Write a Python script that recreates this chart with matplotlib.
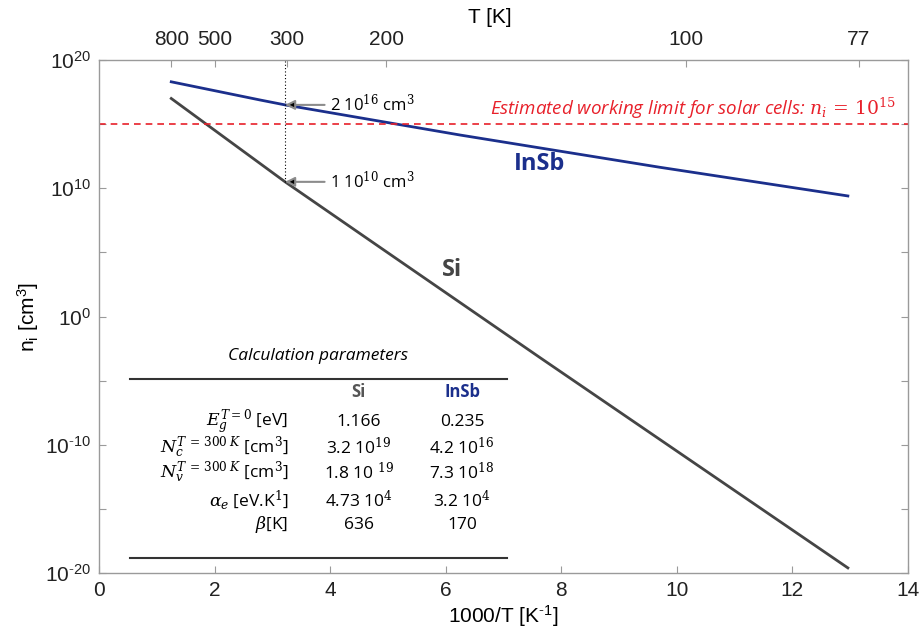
import matplotlib.pyplot as plt
import numpy as np

# Данные (1000/T и log10(n_i))
si_x = [1.25, 1.75, 3.22, 4.86, 7.63, 12.96]
si_log = [17.0, 15.35, 10.5, 5.4, -3.2, -19.6]

insb_x = [1.25, 2.79, 3.22, 6.25, 9.7, 12.96]
insb_log = [18.3, 16.88, 16.5, 14.15, 11.64, 9.4]

limit_ni = 1e15
x_300 = 3.22
insb_300_log = 16.5
si_300_log = 10.5

top_tick_pos = [1.25, 2.0, 3.25, 4.97, 10.15, 13.15]
top_tick_labels = ['800', '500', '300', '200', '100', '77']

# Таблица параметров
row_labels = [r'$E_g^{T=0}$ [eV]',
              r'$N_c^{T\,=\,300\;K}$ [cm$^3$]',
              r'$N_v^{T\,=\,300\;K}$ [cm$^3$]',
              r'$\alpha_e$ [eV.K$^1$]',
              r'$\beta$[K]']
si_params = ['1.166', r'3.2 10$^{19}$', r'1.8 10 $^{19}$', r'4.73 10$^4$', '636']
insb_params = ['0.235', r'4.2 10$^{16}$', r'7.3 10$^{18}$', r'3.2 10$^4$', '170']

navy = '#1b2f8c'
dgray = '#454545'
axcol = '#9a9a9a'

plt.rcParams['font.family'] = ['Liberation Sans', 'DejaVu Sans']
plt.rcParams['mathtext.fontset'] = 'dejavuserif'

fig = plt.figure(figsize=(9.23, 6.35), dpi=100)
ax = fig.add_axes([0.1073, 0.0976, 0.8764, 0.8079])

ax.plot(insb_x, 10.0 ** np.array(insb_log), color=navy, lw=2.0)
ax.plot(si_x, 10.0 ** np.array(si_log), color=dgray, lw=2.0)
ax.axhline(limit_ni, color='#e8202a', lw=1.2, ls=(0, (4, 3)))

ax.set_yscale('log')
ax.set_xlim(0, 14)
ax.set_ylim(1e-20, 1e20)

yt = [10.0 ** k for k in range(-20, 21, 5)]
ax.set_yticks(yt)
ax.set_yticklabels([(r'10$^{\mathregular{%d}}$' % k).replace('-', r'\text{-}') if k % 10 == 0 else ''
                    for k in range(-20, 21, 5)])
ax.minorticks_off()
ax.set_xticks(range(0, 15, 2))

for s in ax.spines.values():
    s.set_color(axcol)
    s.set_linewidth(1.0)
ax.tick_params(direction='in', length=5, color=axcol, labelsize=15,
               top=True, right=True, labelcolor='#222222', pad=6)

ax.set_xlabel(r'1000/T [K$^{\mathregular{-1}}$]'.replace('-', r'\text{-}'), fontsize=15, labelpad=2)
ax.set_ylabel(r'n$_\mathregular{i}$ [cm$^\mathregular{3}$]', fontsize=15)
ax.yaxis.set_label_coords(-0.072, 0.5)

# Верхняя ось с температурой
ax2 = ax.twiny()
ax2.set_xlim(0, 14)
ax2.set_xticks(top_tick_pos)
ax2.set_xticklabels(top_tick_labels)
ax2.tick_params(direction='in', length=5, color=axcol, labelsize=15,
                labelcolor='#222222', pad=8)
for s in ax2.spines.values():
    s.set_visible(False)
ax2.set_xlabel('T [K]', fontsize=15)
ax2.xaxis.set_label_coords(0.483, 1.072)

# Пунктир на 300 K и стрелки
ax.vlines(x_300, 10 ** si_300_log, 1e20, colors='black', linestyles=(0, (1, 2)), lw=0.8)
arrow = dict(arrowstyle='-|>', edgecolor='#8c8c8c', facecolor='black', lw=1.5,
             mutation_scale=14, shrinkA=2, shrinkB=0)
ax.annotate(r'2 10$^{16}$ cm$^3$', xy=(x_300, 10 ** insb_300_log),
            xytext=(4.0, 10 ** insb_300_log), va='center', ha='left',
            fontsize=12, family='Open Sans', arrowprops=arrow)
ax.annotate(r'1 10$^{10}$ cm$^3$', xy=(x_300, 10 ** si_300_log),
            xytext=(4.0, 10 ** si_300_log), va='center', ha='left',
            fontsize=12, family='Open Sans', arrowprops=arrow)

ax.text(0.985, 0.905, r'Estimated working limit for solar cells: $n_i\,=\,10^{15}$',
        transform=ax.transAxes, ha='right', va='center', color='#e8202a',
        fontsize=13.5, style='italic', family='Open Sans')

ax.text(0.545, 0.798, 'InSb', transform=ax.transAxes, ha='center', va='center',
        color=navy, fontsize=17, fontweight='bold', family='Open Sans')
ax.text(0.436, 0.59, 'Si', transform=ax.transAxes, ha='center', va='center',
        color=dgray, fontsize=17, fontweight='bold', family='Open Sans')

# Таблица
ax.text(0.271, 0.423, 'Calculation parameters', transform=ax.transAxes,
        ha='center', va='center', fontsize=12.5, style='italic', family='Open Sans')
ax.plot([0.038, 0.504], [0.378, 0.378], transform=ax.transAxes, color='#333333', lw=1.5)
ax.plot([0.038, 0.504], [0.029, 0.029], transform=ax.transAxes, color='#333333', lw=1.5)
ax.text(0.321, 0.353, 'Si', transform=ax.transAxes, ha='center', va='center',
        fontsize=12, fontweight='bold', color='#555555', family='Open Sans')
ax.text(0.449, 0.353, 'InSb', transform=ax.transAxes, ha='center', va='center',
        fontsize=12, fontweight='bold', color=navy, family='Open Sans')
row_y = [0.294, 0.244, 0.195, 0.142, 0.094]
for yy, lab, a, b in zip(row_y, row_labels, si_params, insb_params):
    ax.text(0.234, yy, lab, transform=ax.transAxes, ha='right', va='center',
            fontsize=12.5, family='Open Sans')
    ax.text(0.321, yy, a, transform=ax.transAxes, ha='center', va='center',
            fontsize=12.5, family='Open Sans')
    ax.text(0.449, yy, b, transform=ax.transAxes, ha='center', va='center',
            fontsize=12.5, family='Open Sans')

fig.savefig('out.png', dpi=100)
